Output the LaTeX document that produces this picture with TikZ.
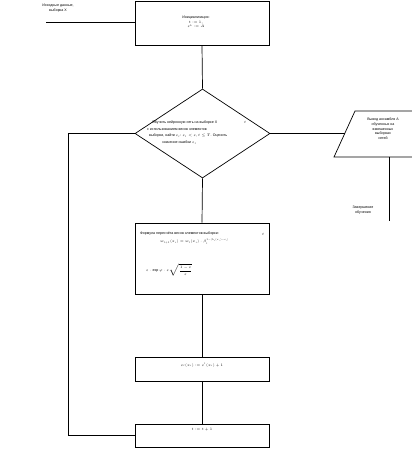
\RequirePackage{fix-cm}
\documentclass[tikz,border=0pt]{standalone}
\usepackage{fontspec}
\setmainfont{Liberation Sans}
\usetikzlibrary{shapes.geometric}
\tikzset{
  shp/.style={draw, line width=0.7bp, inner sep=0pt},
  boxnode/.style={shp, rectangle, minimum width=134bp},
  conn/.style={line width=0.7bp},
  lbl/.style={inner sep=0pt, font=\fontsize{3.6}{4.3}\selectfont, anchor=west},
  lblc/.style={inner sep=0pt, font=\fontsize{3.6}{4.3}\selectfont, align=center}
}
\begin{document}
\begin{tikzpicture}[x=1bp,y=-1bp]
\useasboundingbox (0,0) rectangle (411,460);

% shapes
\node[boxnode, minimum height=44bp] (init) at (202,23) {};
\node[shp, diamond, minimum width=135bp, minimum height=89bp] (dec) at (202.5,133.5) {};
\node[boxnode, minimum height=71bp] (proc) at (202,258.5) {};
\node[boxnode, minimum height=24bp] (upd) at (202,369) {};
\node[boxnode, minimum height=23bp] (inc) at (202,435.5) {};

% parallelogram (output)
\coordinate (pa) at (355,111);
\coordinate (pb) at (440,111);
\coordinate (pc) at (419,157);
\coordinate (pd) at (334,157);
\draw[conn] (pb) -- (pa) -- (pd) -- (pc);
\coordinate (pin) at (344.5,133.5);
\coordinate (pbot) at (389,157);
\coordinate (stop) at (389,221);
\coordinate (inp) at (46,22);
\coordinate (lt) at (68,133.5);

% connectors
\draw[conn] (inp) -- (inp -| init.west);
\draw[conn] (init.south) -- (dec.north);
\draw[conn] (dec.south) -- (proc.north);
\draw[conn] (proc.south) -- (upd.north);
\draw[conn] (upd.south) -- (inc.north);
\draw[conn] (inc.west) -| (lt) -- (dec.west);
\draw[conn] (dec.east) -- (pin);
\draw[conn] (pbot) -- (stop);

% texts
\node[lblc] (tin) at (58,8) {Исходные данные,\\[0.3bp] выборка X};
\node[lblc] (tinit) at (196,22) {Инициализация:\\[0.4bp] $t:=1,$\\[0.4bp] $\varepsilon^{k}:=A$};

\node[lbl] (td1) at (152,123) {Обучить нейронную сеть на выборке X};
\node[lbl] (td2) at (147,129.5) {с использованием весов элементов};
\node[lbl] (td3) at (149,136) {выборки, найти $\varepsilon_t$: $\varepsilon_t<\varepsilon$, $t\le T$. Оценить};
\node[lbl] (td4) at (162,143) {значение ошибки $\varepsilon_t$};
\node[lbl] (tdm) at (244,122) {$t$};

\node[lblc] (tout) at (383,129) {Вывод ансамбля A\\[0.4bp] обученных на\\[0.4bp] взвешенных\\[0.4bp] выборках\\[0.4bp] сетей};
\node[lblc] (tend) at (363,210) {Завершение\\[0.6bp] обучения};

\node[lbl] (tp1) at (140,234) {Формула пересчёта весов элементов выборки:};
\node[lbl] (tpm) at (262,234) {$t$};
\node[lbl] (tp2) at (160,241.5) {$w_{t+1}(x_i)=w_t(x_i)\cdot\beta_t^{1-|h_t(x_i)-c_i|}$};
\node[lbl] (tp3) at (146,270) {$\displaystyle\varepsilon\cdot\exp\varphi\cdot\varepsilon\sqrt{\frac{1-\varepsilon}{\varepsilon}}$};

\node[lblc] (tu) at (202,365) {$\varepsilon_t(x_i):=\varepsilon^{t}(x_i)+1$};
\node[lblc] (ti) at (202,430) {$t:=t+1$};
\end{tikzpicture}
\end{document}
